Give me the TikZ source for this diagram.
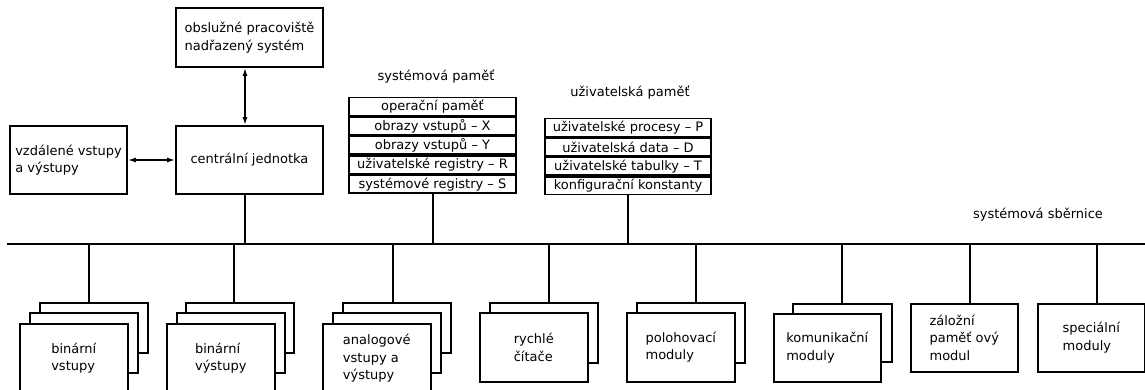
\documentclass[tikz,border=0pt]{standalone}
\usepackage{fontspec}
\setmainfont{DejaVu Sans}
\usetikzlibrary{positioning,arrows.meta}
\tikzset{
  blok/.style={draw,align=left,inner sep=4pt},
  radek/.style={draw,inner sep=1pt,minimum height=17.8pt},
  vrstva/.style={draw,fill=white,anchor=north west,minimum width=108pt,minimum height=#1,align=left,inner sep=0pt},
}
\begin{document}
\begin{tikzpicture}[x=1pt,y=-1pt,>={Latex[length=8pt,width=5pt]},line width=1.6pt,line join=miter,font=\fontsize{13}{17.5}\selectfont]
\clip (0,0) rectangle (1145,390);
% ridici cast
\node[blok,minimum width=147pt,minimum height=59pt] (ob) at (249.5,37.5) {obslužné pracoviště\\nadřazený systém};
\node[blok,minimum width=147pt,minimum height=68pt] (cj) at (249.5,160) {centrální jednotka};
\node[blok,minimum width=117pt,minimum height=68pt] (vz) at (68.5,160) {vzdálené vstupy\\a výstupy};
\draw[<->] ([xshift=-4.5pt]ob.south) -- ([xshift=-4.5pt]cj.north);
\draw[<->] (vz) -- (cj);
% pameti
\node (spl) at (436,77) {systémová paměť};
\node[radek,minimum width=167pt] (sp1) at (432.5,106.6) {operační paměť};
\node[radek,minimum width=167pt,below=0pt of sp1] (sp2) {obrazy vstupů – X};
\node[radek,minimum width=167pt,below=0pt of sp2] (sp3) {obrazy vstupů – Y};
\node[radek,minimum width=167pt,below=0pt of sp3] (sp4) {uživatelské registry – R};
\node[radek,minimum width=167pt,below=0pt of sp4] (sp5) {systémové registry – S};
\node (upl) at (630,93) {uživatelská paměť};
\node[radek,minimum width=166pt] (up1) at (628,127.6) {uživatelské procesy – P};
\node[radek,minimum width=166pt,below=0pt of up1] (up2) {uživatelská data – D};
\node[radek,minimum width=166pt,below=0pt of up2] (up3) {uživatelské tabulky – T};
\node[radek,minimum width=166pt,below=0pt of up3] (up4) {konfigurační konstanty};
% sbernice
\coordinate (busL) at (7,244);
\coordinate (busR) at (1145,244);
\draw (busL) -- (busR);
\node (sbl) at (1038,215) {systémová sběrnice};
\draw ([xshift=-4.5pt]cj.south) -- ([xshift=-4.5pt]cj.south |- busL);
\draw ([xshift=0.5pt]sp5.south) -- ([xshift=0.5pt]sp5.south |- busL);
\draw (up4.south) -- (up4.south |- busL);
% moduly
\node[vrstva=50pt] (bvs3) at (39,302) {};
\node[vrstva=60pt] (bvs2) at (29,312) {};
\node[vrstva=69pt] (bvs1) at (19,323) {binární\\vstupy};
\node[vrstva=50pt] (bvy3) at (185,302) {};
\node[vrstva=60pt] (bvy2) at (176,312) {};
\node[vrstva=69pt] (bvy1) at (166,323) {binární\\výstupy};
\node[vrstva=50pt] (an3) at (342,302) {};
\node[vrstva=60pt] (an2) at (332,312) {};
\node[vrstva=69pt] (an1) at (322,323) {analogové\\vstupy a\\výstupy};
\node[vrstva=60pt] (cit2) at (489,302) {};
\node[vrstva=69pt] (cit1) at (479,312) {rychlé\\čítače};
\node[vrstva=60pt] (pol2) at (636,302) {};
\node[vrstva=69pt] (pol1) at (626,312) {polohovací\\moduly};
\node[vrstva=58pt,minimum width=99pt] (kom2) at (792,303) {};
\node[vrstva=68pt,minimum width=107pt] (kom1) at (773,313) {komunikační\\moduly};
\node[vrstva=68pt,minimum width=107pt] (zal) at (910,303) {záložní\\paměť ový\\modul};
\node[vrstva=68pt,minimum width=107pt] (spec) at (1037,303) {speciální\\moduly};
\foreach \m/\dx in {bvs3/-5,bvy3/-6,an3/-4,cit2/5,pol2/5,kom2/-0.5,zal/5.5,spec/5.5}
  \draw ([xshift=\dx pt]\m.north) -- ([xshift=\dx pt]\m.north |- busL);
\end{tikzpicture}
\end{document}
